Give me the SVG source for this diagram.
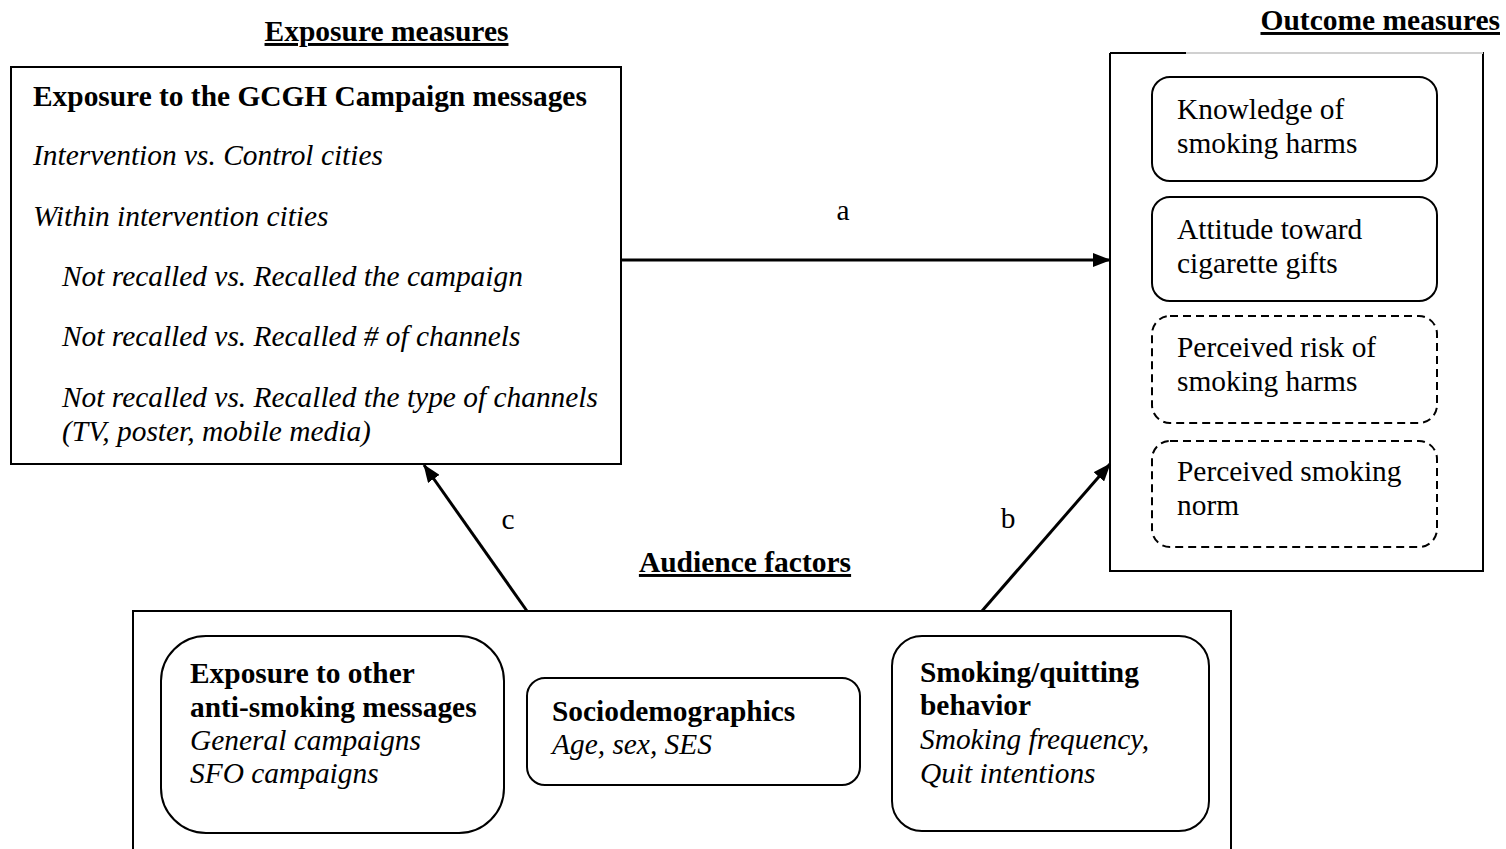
<svg xmlns="http://www.w3.org/2000/svg" width="1506" height="849" viewBox="0 0 1506 849">
<defs>
<marker id="ah" markerWidth="18" markerHeight="14" refX="17" refY="7" orient="auto" markerUnits="userSpaceOnUse">
<path d="M0,0 L18,7 L0,14 Z" fill="#000"/>
</marker>
<style>
text{font-family:"Liberation Serif","Times New Roman",serif;font-size:29.4px;fill:#000}
.b{font-weight:bold}
.i{font-style:italic}
.h{font-weight:bold;text-decoration:underline;font-size:29.5px}
.box{fill:#fff;stroke:#000;stroke-width:2}
.rb{fill:#fff;stroke:#000;stroke-width:2}
.db{fill:#fff;stroke:#000;stroke-width:2;stroke-dasharray:8,5}
.conn{stroke:#000;stroke-width:3;fill:none;marker-end:url(#ah)}
</style>
</defs>
<rect width="1506" height="849" fill="#fff"/>

<text class="h" x="386.5" y="41" text-anchor="middle">Exposure measures</text>
<text class="h" x="1500" y="30" text-anchor="end">Outcome measures</text>
<text class="h" x="745" y="572" text-anchor="middle">Audience factors</text>

<g id="exposure">
<rect class="box" x="11" y="67" width="610" height="397"/>
<text class="b" x="33" y="106">Exposure to the GCGH Campaign messages</text>
<text class="i" x="33" y="165">Intervention vs. Control cities</text>
<text class="i" x="33" y="226">Within intervention cities</text>
<text class="i" x="62" y="286">Not recalled vs. Recalled the campaign</text>
<text class="i" x="62" y="346">Not recalled vs. Recalled # of channels</text>
<text class="i" x="62" y="407">Not recalled vs. Recalled the type of channels</text>
<text class="i" x="62" y="441">(TV, poster, mobile media)</text>
</g>

<g id="outcome">
<path d="M1185,53 H1483 V571 H1110 V53" fill="#fff" stroke="#000" stroke-width="2"/>
<line x1="1185" y1="53" x2="1483" y2="53" stroke="#d0d0d0" stroke-width="2"/>
<line x1="1110" y1="53" x2="1186" y2="53" stroke="#000" stroke-width="2"/>
<g id="knowledge">
<rect class="rb" x="1152" y="77" width="285" height="104" rx="18"/>
<text x="1177" y="119">Knowledge of</text>
<text x="1177" y="153">smoking harms</text>
</g>
<g id="attitude">
<rect class="rb" x="1152" y="197" width="285" height="104" rx="18"/>
<text x="1177" y="239">Attitude toward</text>
<text x="1177" y="273">cigarette gifts</text>
</g>
<g id="risk">
<rect class="db" x="1152" y="316" width="285" height="107" rx="18"/>
<text x="1177" y="357">Perceived risk of</text>
<text x="1177" y="391">smoking harms</text>
</g>
<g id="norm">
<rect class="db" x="1152" y="441" width="285" height="106" rx="18"/>
<text x="1177" y="481">Perceived smoking</text>
<text x="1177" y="515">norm</text>
</g>
</g>

<g id="audience">
<rect class="box" x="133" y="611" width="1098" height="250"/>
<g id="other">
<rect class="rb" x="161" y="636" width="343" height="197" rx="45"/>
<text class="b" x="190" y="683">Exposure to other</text>
<text class="b" x="190" y="717">anti-smoking messages</text>
<text class="i" x="190" y="750">General campaigns</text>
<text class="i" x="190" y="783">SFO campaigns</text>
</g>
<g id="socio">
<rect class="rb" x="527" y="678" width="333" height="107" rx="18"/>
<text class="b" x="552" y="721">Sociodemographics</text>
<text class="i" x="552" y="754">Age, sex, SES</text>
</g>
<g id="smoking">
<rect class="rb" x="892" y="636" width="317" height="195" rx="30"/>
<text class="b" x="920" y="682">Smoking/quitting</text>
<text class="b" x="920" y="715">behavior</text>
<text class="i" x="920" y="749">Smoking frequency,</text>
<text class="i" x="920" y="783">Quit intentions</text>
</g>
</g>

<g id="connectors">
<line class="conn" x1="621" y1="260" x2="1110" y2="260"/>
<line class="conn" x1="527" y1="611" x2="424" y2="465"/>
<line class="conn" x1="982" y1="611" x2="1110" y2="464"/>
<text x="843" y="220" text-anchor="middle">a</text>
<text x="1008" y="528" text-anchor="middle">b</text>
<text x="508" y="529" text-anchor="middle">c</text>
</g>
</svg>
